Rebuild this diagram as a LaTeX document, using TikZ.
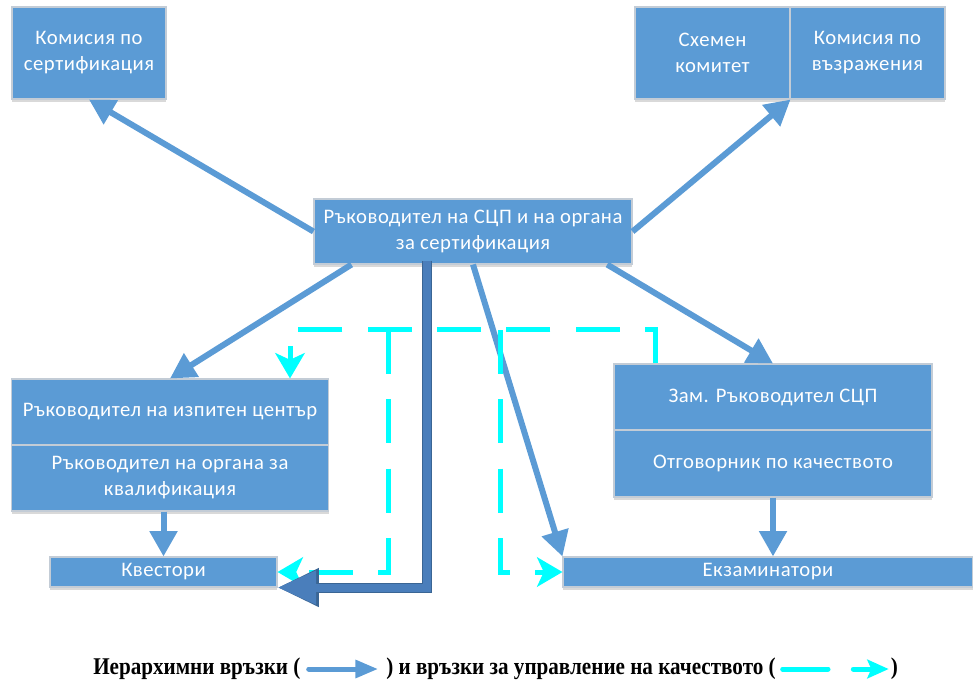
\documentclass[tikz,border=0pt]{standalone}
\usepackage{fontspec}
\usepackage{tikz}
\newfontfamily\boxfont[LetterSpace=2.5]{Carlito}
\newfontfamily\legendfont[FakeStretch=0.88]{Liberation Serif}
\usetikzlibrary{positioning, arrows.meta, calc, shadows}
\definecolor{boxblue}{HTML}{5B9BD5}
\definecolor{boxedge}{HTML}{C3CCD6}
\definecolor{hierblue}{HTML}{5B9BD5}
\definecolor{darkblue}{HTML}{4A7EBB}
\definecolor{darkedge}{HTML}{3A6594}
\definecolor{qualcyan}{HTML}{00FFFF}

\begin{document}
\begin{tikzpicture}[x=0.75pt, y=-0.75pt,
    box/.style={draw=boxedge, line width=0.8pt, fill=boxblue, text=white, align=center, inner sep=2pt,
        font=\boxfont\fontsize{15.5}{19.5}\selectfont,
        drop shadow={shadow xshift=0pt, shadow yshift=-2.5pt, fill=black, opacity=0.15}},
    hier/.style={draw=hierblue, line width=4.5pt, -{Triangle[length=19pt, width=20pt]}},
    dark/.style={draw=darkblue, line width=6pt, -{Triangle[length=29pt, width=24pt]},
        preaction={draw=darkedge, line width=7.5pt, -{Triangle[length=31pt, width=27pt]}}},
    qual/.style={draw=qualcyan, line width=3.75pt, dash pattern=on 33pt off 19pt,
        -{Stealth[length=19pt, width=22pt, inset=5pt]}},
    legend/.style={font=\legendfont\bfseries\fontsize{18}{21}\selectfont, inner sep=0pt},
    hier legend/.style={draw=hierblue, line width=3.75pt, line cap=round, -{Triangle[length=17pt, width=13pt]}},
    qual legend/.style={draw=qualcyan, line width=3.75pt, line cap=round, dash pattern=on 34pt off 19pt,
        -{Stealth[length=16pt, width=14pt, inset=3pt]}}]

    \useasboundingbox (0,0) rectangle (973,683);

    % ================= Boxes =================
    % top row
    \node[box, minimum width=115.5pt, minimum height=69pt] (kom_sert) at (89,53) {Комисия по\\сертификация};
    \node[box, minimum width=116.25pt, minimum height=69pt] (shemen) at (712.5,53) {Схемен\\комитет};
    \node[box, minimum width=116.25pt, minimum height=69pt] (kom_vaz) at (867.5,53) {Комисия по\\възражения};

    % head of the body
    \node[box, minimum width=238.5pt, minimum height=48.75pt] (rakov) at (473,231.5) {Ръководител на СЦП и на органа\\за сертификация};

    % left column
    \node[box, minimum width=237.75pt, minimum height=49.5pt] (izp_c) at (170,412) {Ръководител на изпитен център};
    \node[box, minimum width=237.75pt, minimum height=49.5pt] (kval) at (170,478) {Ръководител на органа за\\квалификация};
    \node[box, minimum width=170.25pt, minimum height=22.5pt] (kvest) at (163.5,572) {Квестори};

    % right column
    \node[box, minimum width=238.5pt, minimum height=49.5pt] (zam) at (773,397) {Зам. Ръководител СЦП};
    \node[box, minimum width=238.5pt, minimum height=50.25pt] (otg) at (773,463.5) {Отговорник по качеството};
    \node[box, minimum width=307.5pt, minimum height=22.5pt] (ekz) at (768,572) {Екзаминатори};

    % ================= Hierarchy links =================
    \draw[hier] (rakov.west) -- (kom_sert.south);
    \draw[hier] (rakov.east) -- (shemen.south east);
    \draw[hier] ([xshift=28.5pt]rakov.south west) -- (izp_c.north);
    \draw[hier] ([xshift=-19pt]rakov.south east) -- (zam.north);
    \draw[hier] (rakov.south) -- (ekz.north west);
    \draw[hier] (otg.south) -- (otg.south |- ekz.north);
    \draw[hier] (kvest.north |- kval.south) -- (kvest.north);

    % ================= Quality links =================
    \coordinate (q_left) at (388,330);
    \coordinate (q_right) at (500,330);
    \draw[qual] ([xshift=-88.5pt]zam.north) -- ++(0,-34) -| ([xshift=90pt]izp_c.north);
    \draw[qual] (q_left) |- (kvest.east);
    \draw[qual] (q_right) |- (ekz.west);

    % direct link to the proctors
    \draw[dark] ([xshift=-34.5pt, yshift=3pt]rakov.south) |- (kvest.south east);

    % ================= Legend =================
    \node[legend, anchor=west] (leg_a) at (93,669) {Иерархимни връзки (};
    \node[legend, right=64pt of leg_a] (leg_b) {) и връзки за управление на качеството (};
    \node[legend, right=86pt of leg_b] (leg_c) {)};
    \draw[hier legend] ([xshift=6pt]leg_a.east) -- ([xshift=-6pt]leg_b.west);
    \draw[qual legend] ([xshift=5pt]leg_b.east) -- ([xshift=-1.5pt]leg_c.west);

\end{tikzpicture}
\end{document}
